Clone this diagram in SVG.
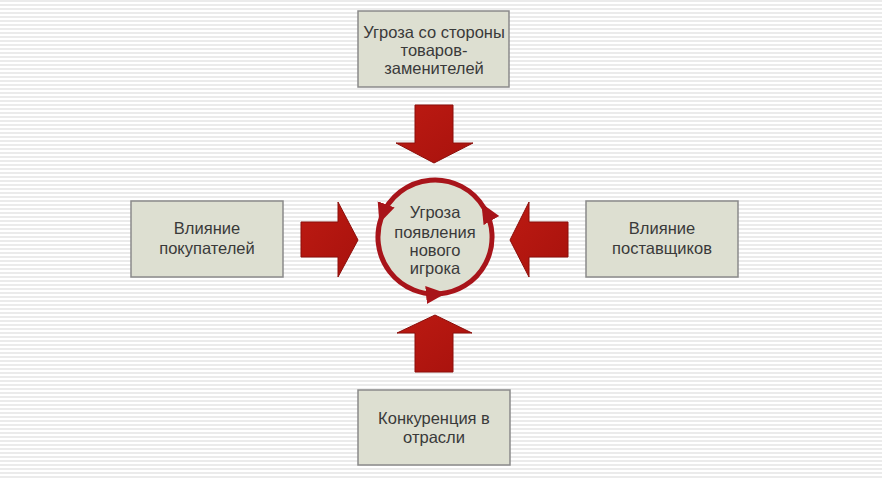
<svg xmlns="http://www.w3.org/2000/svg" width="882" height="480" viewBox="0 0 882 480">
<defs>
<pattern id="stripes" width="8" height="4" patternUnits="userSpaceOnUse">
<rect width="8" height="4" fill="#ffffff"/>
<rect y="0" width="8" height="2" fill="#ebebeb"/>
</pattern>
<marker id="ah" markerUnits="userSpaceOnUse" markerWidth="20" markerHeight="20" viewBox="0 0 20 20" refX="14" refY="10" orient="auto">
<path d="M0,1 L20,10 L0,19 z" fill="#a8141a"/>
</marker>
<linearGradient id="rg" x1="0" y1="0" x2="1" y2="1">
<stop offset="0" stop-color="#bc1a12"/>
<stop offset="1" stop-color="#a8120d"/>
</linearGradient>
</defs>
<style>
.box{fill:#dddfd1;stroke:#8a8a8a;stroke-width:1.5}
.t{font-family:"Liberation Sans",Arial,sans-serif;font-size:16.5px;fill:#3a3a3a;text-anchor:middle}
.arr{fill:url(#rg);stroke:#8c0e0a;stroke-width:1}
.ring{fill:none;stroke:#a8141a;stroke-width:5}
</style>
<rect width="882" height="480" fill="url(#stripes)"/>

<g id="top">
<rect class="box" x="358" y="11" width="151" height="76"/>
<text class="t" x="434" y="38">Угроза со стороны</text>
<text class="t" x="434" y="56">товаров-</text>
<text class="t" x="434" y="74">заменителей</text>
</g>
<g id="left">
<rect class="box" x="131" y="201" width="152" height="76"/>
<text class="t" x="207" y="234">Влияние</text>
<text class="t" x="207" y="254">покупателей</text>
</g>
<g id="right">
<rect class="box" x="586" y="201" width="152" height="76"/>
<text class="t" x="662" y="234">Влияние</text>
<text class="t" x="662" y="254">поставщиков</text>
</g>
<g id="bottom">
<rect class="box" x="358" y="390" width="152" height="75"/>
<text class="t" x="434" y="424">Конкуренция в</text>
<text class="t" x="434" y="443">отрасли</text>
</g>
<g id="center">
<circle cx="435" cy="237" r="57" fill="#dddfd1"/>
<text class="t" x="435" y="218">Угроза</text>
<text class="t" x="435" y="238">появления</text>
<text class="t" x="435" y="256">нового</text>
<text class="t" x="435" y="274">игрока</text>
</g>
<g id="connectors">
<path class="arr" d="M415,105 L453,105 L453,143 L473,143 L434,163 L396,143 L415,143 Z"/>
<path class="arr" d="M301,222 L338,222 L338,202 L358,240 L338,277 L338,257 L301,257 Z"/>
<path class="arr" d="M568,222 L529,222 L529,202 L510,240 L529,277 L529,257 L568,257 Z"/>
<path class="arr" d="M415,372 L453,372 L453,333 L472,333 L435,315 L397,333 L415,333 Z"/>
<path class="ring" d="M440,293.8 A57,57 0 0 0 484.4,208.5" marker-end="url(#ah)"/>
<path class="ring" d="M484.4,208.5 A57,57 0 0 0 381.4,217.5" marker-end="url(#ah)"/>
<path class="ring" d="M381.4,217.5 A57,57 0 0 0 440,293.8" marker-end="url(#ah)"/>
</g>
</svg>
